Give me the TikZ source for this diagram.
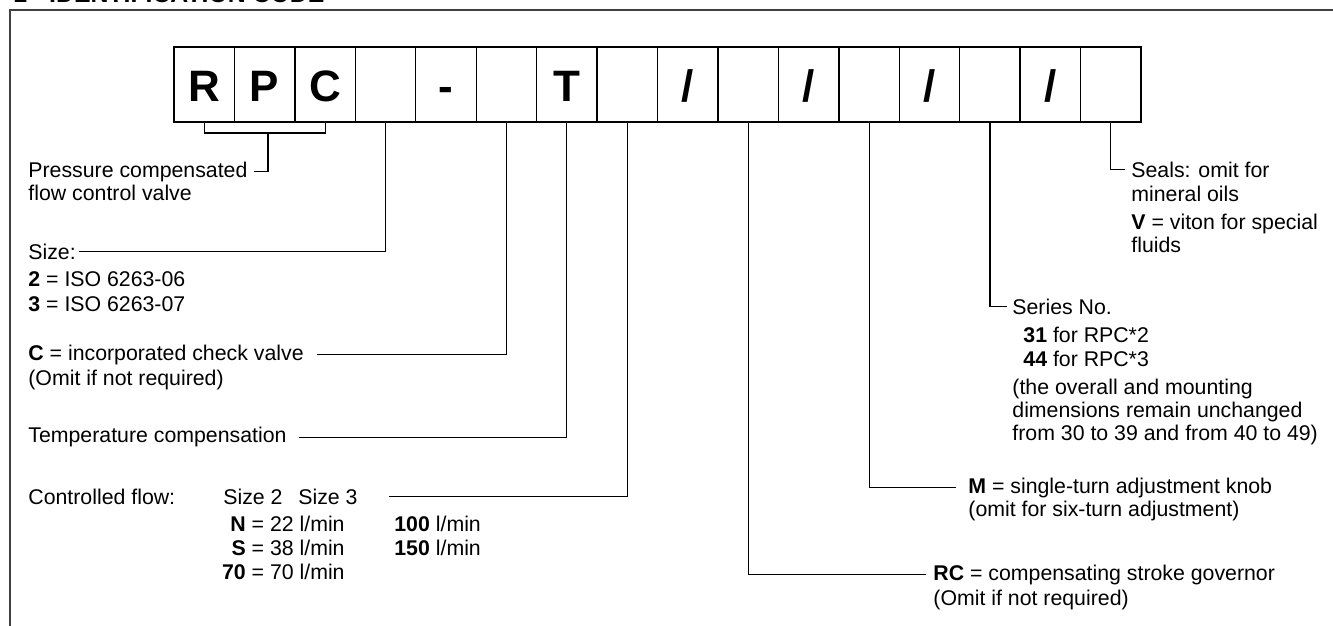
\documentclass[tikz,border=0pt]{standalone}
\usepackage{fontspec}
\setmainfont{Liberation Sans}
\newcommand{\slashsym}{/}
\tikzstyle{cell}=[draw=black,line width=0.7pt,minimum width=30.22pt,minimum height=37.5pt,inner sep=0pt,outer sep=0pt,text height=17.5pt,text depth=0pt,font=\fontsize{22}{22}\selectfont\bfseries]
\tikzstyle{txt}=[anchor=base west,inner sep=0pt,font=\fontsize{10.65}{12}\selectfont]
\tikzstyle{rtxt}=[anchor=base east,inner sep=0pt,font=\fontsize{10.65}{12}\selectfont]
\tikzstyle{lead}=[draw=black,line width=0.55pt]
\begin{document}
\begin{tikzpicture}[x=0.5pt,y=-0.5pt]
   \useasboundingbox (0,0) rectangle (1333,626);

   % Title and frame
   \node[anchor=base west,inner sep=0pt,font=\fontsize{12.4}{12}\selectfont\bfseries] (title) at (13,2.5) {1 - IDENTIFICATION CODE};
   \draw[line width=1pt,draw=black!75] (1333,10) -- (10,10) -- (10,626);

   % Code boxes
   \foreach \i/\t in {1/R,2/P,3/C,4/{},5/-,6/{},7/T,8/{},9/\slashsym,10/{},11/\slashsym,12/{},13/\slashsym,14/{},15/\slashsym,16/{}}
      \node[cell] (b\i) at ({143.78+60.44*\i},84.5) {\t};

   % Left labels
   \node[txt] (press) at (28,177) {Pressure compensated};
   \node[txt] (press2) at (28,200.7) {flow control valve};
   \node[txt] (size) at (28,259.3) {Size:};
   \node[txt] (size2) at (28,286.7) {\textbf{2} = ISO 6263-06};
   \node[txt] (size3) at (28,311) {\textbf{3} = ISO 6263-07};
   \node[txt] (chk) at (28,360) {\textbf{C} = incorporated check valve};
   \node[txt] (chk2) at (28,385) {(Omit if not required)};
   \node[txt] (temp) at (28,442.7) {Temperature compensation};
   \node[txt] (flow) at (28,504) {Controlled flow:};
   \node[txt] (sz2) at (223,504) {Size 2};
   \node[txt] (sz3) at (298,504) {Size 3};
   \node[rtxt] (fn) at (345,531.7) {\textbf{N} = 22 l/min};
   \node[rtxt] (fs) at (345,555.7) {\textbf{S} = 38 l/min};
   \node[rtxt] (f70) at (345,579.3) {\textbf{70} = 70 l/min};
   \node[txt] (fn3) at (394,531.7) {\textbf{100} l/min};
   \node[txt] (fs3) at (394,555.7) {\textbf{150} l/min};

   % Right labels
   \node[txt] (seal) at (1131,177) {Seals: omit for};
   \node[txt] (seal2) at (1131,201) {mineral oils};
   \node[txt] (seal3) at (1131,229) {\textbf{V} = viton for special};
   \node[txt] (seal4) at (1131,252.7) {fluids};
   \node[txt] (ser) at (1012,314) {Series No.};
   \node[txt] (ser2) at (1023,342.3) {\textbf{31} for RPC*2};
   \node[txt] (ser3) at (1023,366) {\textbf{44} for RPC*3};
   \node[txt] (ser4) at (1012,394) {(the overall and mounting};
   \node[txt] (ser5) at (1012,417) {dimensions remain unchanged};
   \node[txt] (ser6) at (1012,440) {from 30 to 39 and from 40 to 49)};
   \node[txt] (knob) at (968,493) {\textbf{M} = single-turn adjustment knob};
   \node[txt] (knob2) at (968,516.5) {(omit for six-turn adjustment)};
   \node[txt] (gov) at (933,580) {\textbf{RC} = compensating stroke governor};
   \node[txt] (gov2) at (933,605) {(Omit if not required)};

   % Leader lines
   \coordinate (brk) at (268,133);
   \draw[lead] (b1.south) |- (brk) -| (b3.south);
   \draw[lead] (brk) |- ([xshift=3pt]press.east);
   \draw[lead] (b4.south) |- ([xshift=1.5pt]size.east);
   \draw[lead] (b6.south) |- ([xshift=6.5pt]chk.east);
   \draw[lead] (b7.south) |- ([xshift=6pt]temp.east);
   \draw[lead] (b8.south) |- ([xshift=15.5pt]sz3.east);
   \draw[lead] (b10.south) |- ([xshift=-3.5pt]gov.west);
   \draw[lead] (b12.south) |- ([xshift=-6pt]knob.west);
   \draw[lead] (b14.south) |- ([xshift=-2.5pt]ser.west);
   \draw[lead] (b16.south) |- ([xshift=-3pt]seal.west);

\end{tikzpicture}
\end{document}
